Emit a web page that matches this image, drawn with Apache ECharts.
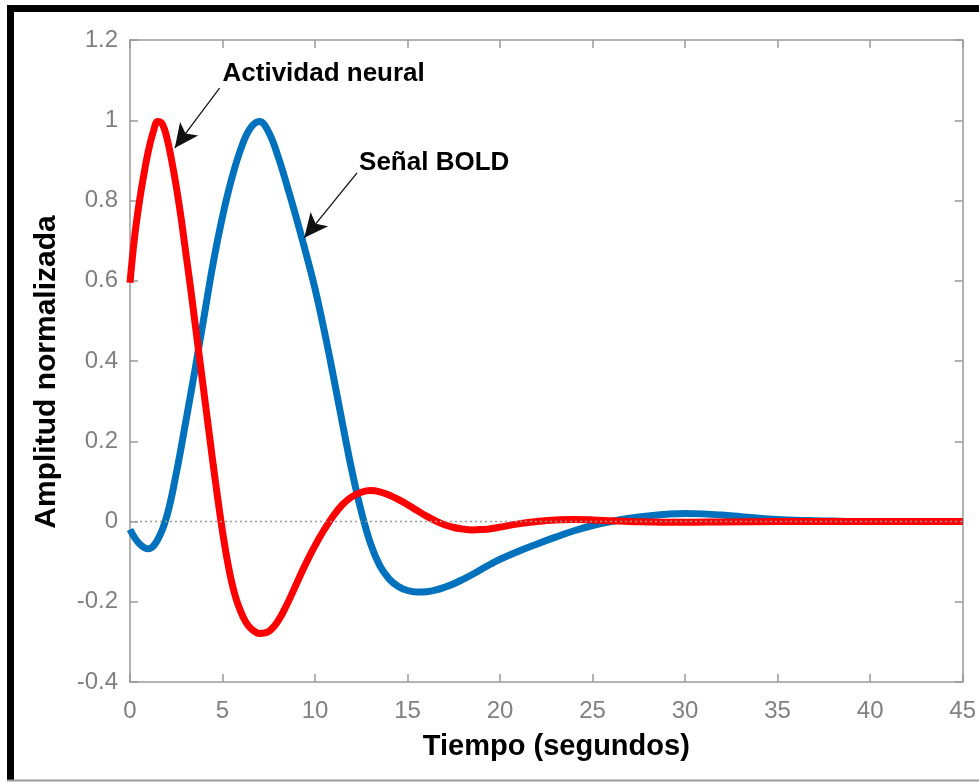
<!DOCTYPE html>
<html>
<head>
<meta charset="utf-8">
<script src="https://cdn.jsdelivr.net/npm/echarts@6/dist/echarts.min.js"></script>
<style>
  html, body { margin: 0; padding: 0; background: #fff; }
  #chart { width: 979px; height: 782px; }
</style>
</head>
<body>
<div id="chart"></div>
<script>
// Señal BOLD (azul)
var boldTime = [0, 0.5, 1.0, 1.5, 2.0, 2.5, 3.0, 3.5, 4.0, 4.5, 5.0, 5.5, 6.0, 6.5, 7.0, 7.5, 8.0, 8.5, 9.0, 9.5, 10.0, 10.5, 11.0, 11.5, 12.0, 12.5, 13.0, 13.5, 14.0, 14.5, 15.0, 15.5, 16.0, 16.5, 17.0, 17.5, 18.0, 18.5, 19.0, 19.5, 20, 21, 22, 23, 24, 25, 26, 27, 28, 29, 30, 31, 32, 33, 34, 35, 36, 37, 38, 39, 40, 42, 45];
var boldAmp = [-0.02, -0.055, -0.068, -0.045, 0.015, 0.12, 0.245, 0.375, 0.51, 0.645, 0.76, 0.855, 0.93, 0.98, 0.997, 0.97, 0.91, 0.835, 0.755, 0.67, 0.58, 0.475, 0.36, 0.24, 0.125, 0.025, -0.055, -0.11, -0.143, -0.162, -0.172, -0.176, -0.175, -0.171, -0.164, -0.155, -0.144, -0.132, -0.119, -0.106, -0.094, -0.074, -0.056, -0.039, -0.023, -0.01, 0.0, 0.008, 0.014, 0.018, 0.02, 0.019, 0.016, 0.012, 0.008, 0.005, 0.003, 0.002, 0.001, 0, 0, 0, 0];

// Actividad neural (rojo)
var neuralTime = [0, 0.25, 0.5, 0.75, 1.0, 1.25, 1.5, 1.75, 2.0, 2.25, 2.5, 2.75, 3.0, 3.25, 3.5, 3.75, 4.0, 4.25, 4.5, 4.75, 5.0, 5.25, 5.5, 5.75, 6.0, 6.25, 6.5, 7.0, 7.5, 8.0, 8.5, 9.0, 9.5, 10.0, 10.5, 11.0, 11.5, 12.0, 12.5, 13.0, 13.5, 14.0, 14.5, 15.0, 15.5, 16.0, 16.5, 17.0, 17.5, 18.0, 18.5, 19.0, 19.5, 20, 21, 22, 23, 24, 25, 26, 27, 28, 29, 30, 32, 35, 40, 45];
var neuralAmp = [0.595, 0.71, 0.795, 0.865, 0.925, 0.97, 0.997, 0.99, 0.955, 0.9, 0.835, 0.76, 0.675, 0.59, 0.5, 0.41, 0.32, 0.23, 0.14, 0.055, -0.025, -0.095, -0.152, -0.195, -0.226, -0.25, -0.265, -0.279, -0.274, -0.248, -0.205, -0.155, -0.105, -0.06, -0.02, 0.015, 0.043, 0.062, 0.073, 0.077, 0.074, 0.066, 0.055, 0.042, 0.028, 0.014, 0.002, -0.008, -0.015, -0.019, -0.021, -0.02, -0.018, -0.014, -0.006, 0.0, 0.004, 0.005, 0.004, 0.002, 0.0, -0.001, -0.002, -0.002, -0.001, 0, 0, 0];

var xTicks = { min: 0, max: 45, step: 5 };
var yTicks = { min: -0.4, max: 1.2, step: 0.2 };

// anotaciones: texto y flecha (inicio -> punta), en unidades de datos
var neuralLabel = { text: 'Actividad neural', at: [5.0, 1.115] };
var neuralArrow = [[4.84, 1.08], [2.42, 0.931]];
var boldLabel = { text: 'Señal BOLD', at: [12.38, 0.893] };
var boldArrow = [[12.27, 0.869], [9.42, 0.707]];

function pairs(xs, ys) {
    return xs.map(function (x, i) { return [x, ys[i]]; });
}

var font = '"Liberation Sans", Arial, Helvetica, sans-serif';
var axisGray = '#9a9a9a';

function xAxisCfg(pos, labels) {
    return {
        type: 'value', position: pos,
        min: xTicks.min, max: xTicks.max, interval: xTicks.step,
        axisLine: { show: true, onZero: false, lineStyle: { color: axisGray, width: 1.5 } },
        axisTick: { show: true, inside: true, length: 8, lineStyle: { color: axisGray, width: 1.5 } },
        axisLabel: { show: labels, color: '#808080', fontSize: 24, fontFamily: font, margin: 17 },
        splitLine: { show: false }
    };
}
function yAxisCfg(pos, labels) {
    return {
        type: 'value', position: pos,
        min: yTicks.min, max: yTicks.max, interval: yTicks.step,
        axisLine: { show: true, onZero: false, lineStyle: { color: axisGray, width: 1.5 } },
        axisTick: { show: true, inside: true, length: 8, lineStyle: { color: axisGray, width: 1.5 } },
        axisLabel: {
            show: labels, color: '#808080', fontSize: 24, fontFamily: font, margin: 12,
            formatter: function (v) { return String(+v.toFixed(1)); }
        },
        splitLine: { show: false }
    };
}

var chart = echarts.init(document.getElementById('chart'), null, { renderer: 'canvas' });

var xMain = xAxisCfg('bottom', true);
xMain.name = 'Tiempo (segundos)';
xMain.nameLocation = 'middle';
xMain.nameGap = 50;
xMain.nameTextStyle = { color: '#000', fontSize: 29, fontWeight: 'bold', fontFamily: font, padding: [0, 0, 0, 20] };

var yMain = yAxisCfg('left', true);
yMain.name = 'Amplitud normalizada';
yMain.nameLocation = 'middle';
yMain.nameGap = 68;
yMain.nameTextStyle = { color: '#000', fontSize: 30, fontWeight: 'bold', fontFamily: font, padding: [0, 22, 0, 0] };

function labelPoint(l) {
    return {
        coord: l.at, value: l.text, symbol: 'rect', symbolSize: 0,
        label: {
            show: true, position: 'right', distance: 0, formatter: l.text,
            color: '#000', fontSize: 26, fontWeight: 'bold', fontFamily: font
        }
    };
}

chart.setOption({
    animation: false,
    backgroundColor: '#fff',
    grid: { left: 130, right: 13, top: 40, bottom: 100 },
    xAxis: [xMain, xAxisCfg('top', false)],
    yAxis: [yMain, yAxisCfg('right', false)],
    graphic: [
        { type: 'line', shape: { x1: 10.5, y1: 5, x2: 10.5, y2: 780 }, style: { stroke: '#000', lineWidth: 7 } },
        { type: 'line', shape: { x1: 7, y1: 8.5, x2: 979, y2: 8.5 }, style: { stroke: '#000', lineWidth: 7 } },
        { type: 'line', shape: { x1: 7, y1: 780.5, x2: 979, y2: 780.5 }, style: { stroke: '#9a9a9a', lineWidth: 2 } }
    ],
    series: [
        {
            type: 'line', name: 'Señal BOLD', xAxisIndex: 0, yAxisIndex: 0,
            data: pairs(boldTime, boldAmp), smooth: 0.4, showSymbol: false,
            lineStyle: { color: '#0072BD', width: 7 },
            markLine: {
                silent: true, symbol: 'none', animation: false,
                label: { show: false },
                lineStyle: { color: '#9a9a9a', width: 1.3, type: [2, 3] },
                data: [{ yAxis: 0 }]
            },
            z: 2
        },
        {
            type: 'line', name: 'Actividad neural', xAxisIndex: 0, yAxisIndex: 0,
            data: pairs(neuralTime, neuralAmp), smooth: 0.4, showSymbol: false,
            lineStyle: { color: '#FF0000', width: 7 },
            markLine: {
                silent: true, animation: false,
                symbol: ['none', 'arrow'], symbolSize: [17, 24],
                label: { show: false },
                lineStyle: { color: '#111', width: 1.3, type: 'solid' },
                data: [
                    [{ coord: neuralArrow[0] }, { coord: neuralArrow[1] }],
                    [{ coord: boldArrow[0] }, { coord: boldArrow[1] }]
                ]
            },
            markPoint: {
                silent: true, animation: false,
                data: [labelPoint(neuralLabel), labelPoint(boldLabel)]
            },
            z: 3
        }
    ]
});
</script>
</body>
</html>
